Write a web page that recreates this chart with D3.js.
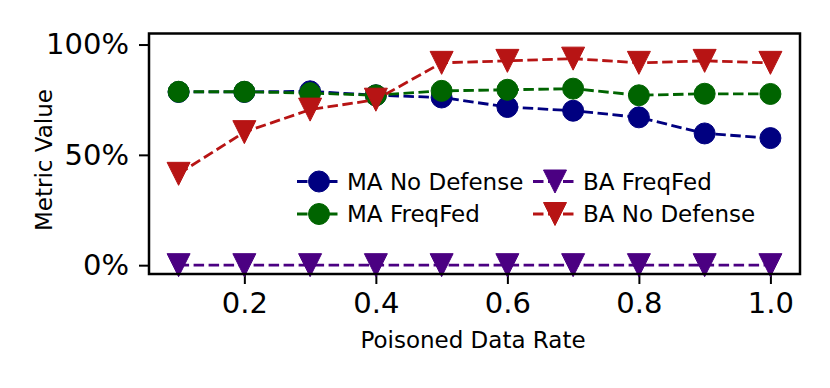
<!DOCTYPE html>
<html>
<head>
<meta charset="utf-8">
<script src="https://cdn.jsdelivr.net/npm/d3@7"></script>
<style>
  body { margin: 0; background: #fff; }
  text { font-family: "DejaVu Sans", sans-serif; fill: #000; }
</style>
</head>
<body>
<svg id="chart" width="830" height="388"></svg>
<script>
// poisoned data rate
var rates = [0.1, 0.2, 0.3, 0.4, 0.5, 0.6, 0.7, 0.8, 0.9, 1.0];

// metric values (%)
var maNoDefense = [78.5, 78.5, 78.8, 77.0, 76.0, 71.7, 70.0, 67.0, 59.7, 57.6];
var maFreqFed   = [78.6, 78.6, 78.0, 77.0, 79.0, 79.5, 80.0, 77.0, 77.7, 77.6];
var baFreqFed   = [0, 0, 0, 0, 0, 0, 0, 0, 0, 0];
var baNoDefense = [41.4, 60.3, 70.5, 75.0, 91.7, 92.6, 93.6, 91.7, 92.6, 91.7];

var xTicks = [0.2, 0.4, 0.6, 0.8, 1.0];
var yTicks = [0, 50, 100];

var series = [
    { name: "MA No Defense", values: maNoDefense, color: "#000080", marker: "circle" },
    { name: "MA FreqFed", values: maFreqFed, color: "#006400", marker: "circle" },
    { name: "BA FreqFed", values: baFreqFed, color: "#4b0082", marker: "tri" },
    { name: "BA No Defense", values: baNoDefense, color: "#b71414", marker: "tri" }
];

var svg = d3.select("#chart");
var plotLeft = 149, plotRight = 800, plotTop = 33.5, plotBottom = 274;

var x = d3.scaleLinear().domain([0.055, 1.045]).range([plotLeft, plotRight]);
var y = d3.scaleLinear().domain([-4, 105]).range([plotBottom, plotTop]);

svg.append("rect").attr("width", 830).attr("height", 388).attr("fill", "#fff");

// axes
var xAxis = svg.append("g")
    .attr("transform", `translate(0,${plotBottom})`)
    .call(d3.axisBottom(x).tickValues(xTicks).tickFormat(d3.format(".1f")).tickSize(10).tickPadding(8));
var yAxis = svg.append("g")
    .attr("transform", `translate(${plotLeft},0)`)
    .call(d3.axisLeft(y).tickValues(yTicks).tickFormat((d) => d + "%").tickSize(10).tickPadding(10));

[xAxis, yAxis].forEach(function (g) {
    g.select(".domain").remove();
    g.selectAll(".tick line").attr("stroke", "#000").attr("stroke-width", 2);
    g.selectAll(".tick text").style("font-size", "29px").attr("fill", "#000");
});

function drawMarker(g, s, cx, cy) {
    if (s.marker == "circle") {
        g.append("circle")
            .attr("cx", cx).attr("cy", cy).attr("r", 10.5)
            .attr("fill", s.color).attr("stroke", s.color).attr("stroke-width", 1);
    } else {
        var h = 11.5;
        g.append("path")
            .attr("d", `M${cx - h},${cy - h}L${cx + h},${cy - h}L${cx},${cy + h}Z`)
            .attr("fill", s.color).attr("stroke", s.color).attr("stroke-width", 1);
    }
}

var line = d3.line()
    .x((d, i) => x(rates[i]))
    .y((d) => y(d));

var plot = svg.append("g");
series.forEach(function (s) {
    var g = plot.append("g");
    g.append("path")
        .attr("d", line(s.values))
        .attr("fill", "none")
        .attr("stroke", s.color)
        .attr("stroke-width", 2.8)
        .attr("stroke-dasharray", "10.5,4.5");
    s.values.forEach(function (v, i) {
        drawMarker(g, s, x(rates[i]), y(v));
    });
});

// frame
svg.append("rect")
    .attr("x", plotLeft).attr("y", plotTop)
    .attr("width", plotRight - plotLeft).attr("height", plotBottom - plotTop)
    .attr("fill", "none").attr("stroke", "#000").attr("stroke-width", 2.5);

// legend (two columns, no frame)
var legendCols = [297, 533];
var legendRows = [181.5, 214];
series.forEach(function (s, i) {
    var lx = legendCols[Math.floor(i / 2)];
    var ly = legendRows[i % 2];
    var g = svg.append("g");
    g.append("line")
        .attr("x1", lx).attr("x2", lx + 44)
        .attr("y1", ly).attr("y2", ly)
        .attr("stroke", s.color).attr("stroke-width", 2.8)
        .attr("stroke-dasharray", "10.5,4.5");
    drawMarker(g, s, lx + 22, ly);
    g.append("text")
        .attr("x", lx + 50).attr("y", ly)
        .attr("dy", "0.36em")
        .style("font-size", "23px")
        .text(s.name);
});

// axis labels
svg.append("text")
    .attr("x", 473).attr("y", 348)
    .attr("text-anchor", "middle")
    .style("font-size", "23px")
    .text("Poisoned Data Rate");

svg.append("text")
    .attr("transform", `translate(51.5,160) rotate(-90)`)
    .attr("text-anchor", "middle")
    .style("font-size", "23px")
    .text("Metric Value");
</script>
</body>
</html>
